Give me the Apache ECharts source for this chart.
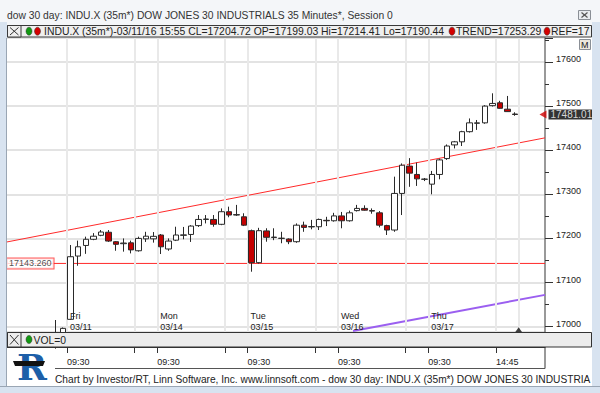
<!DOCTYPE html>
<html><head><meta charset="utf-8">
<script src="https://cdn.jsdelivr.net/npm/echarts@6/dist/echarts.min.js"></script>
<style>html,body{margin:0;padding:0;background:#fff}#c{width:600px;height:393px}</style>
</head><body><div id="c"></div>
<script>
// ---- data (35-minute bars; index 0 = Fri 03/11 09:30) ----
const barIndex = [-2,-1,0,1,2,3,4,5,6,7,8,9,10,11,12,13,14,15,16,17,18,19,20,21,22,23,24,25,26,27,28,29,30,31,32,33,34,35,36,37,38,39,40,41,42,43,44,45,46,47,48,49,50,51,52,53,54,55,56,57,58,59];
const openVals = [16982,16960,17016.5,17160,17184,17198,17207,17214,17192.5,17188,17190,17172,17199,17199.03,17207.7,17176,17196,17207,17209,17229,17243,17243,17232,17260.5,17253,17249,17217.5,17145,17217,17202,17200,17198.6,17192.5,17230,17226,17226.5,17241,17240,17251,17240,17263,17268,17263,17258,17229,17219,17302,17364,17345,17334,17323,17345,17381,17412,17419,17442,17461,17462,17501,17507.5,17493,17482];
const closeVals = [16968,16996,17158.5,17181,17198,17205,17214.5,17194,17186.6,17189.5,17174,17200,17205,17204.72,17181,17194,17207.7,17208,17228,17243,17244,17232,17260.5,17253,17254,17230,17145,17217.5,17202.5,17203,17200.5,17192.5,17230,17225,17227,17243,17240,17251,17240,17258,17268,17264,17262,17230,17219,17302,17366,17348,17335,17334.5,17345,17378,17409.5,17419,17442,17462,17462,17500,17506,17495,17487.5,17481.01];
const lowVals = [16950,16955,17015,17138,17165,17196,17205,17192,17172,17170,17166,17170,17192,17190.44,17164.6,17172,17194,17198,17192,17226,17234,17226.5,17230,17248,17251,17228,17124.5,17143,17192.5,17196,17189,17187,17190,17215,17220.6,17219,17228,17238,17223,17238,17261,17263,17256,17225,17207.7,17215,17253,17317,17319,17330,17300,17334,17378,17404,17409.5,17440,17446,17460,17499,17494,17487,17478];
const highVals = [17015,16998,17185,17195,17204,17212,17219,17219,17194,17200,17195,17204,17215,17214.41,17210,17200,17226.5,17226,17230,17253,17253,17253,17268,17272,17276,17257,17220,17224,17223,17223,17215,17200,17234,17238,17242,17245,17249,17258,17260,17263,17276,17275,17268,17262,17231,17340,17370,17382,17372,17337,17353,17381,17413,17421,17444,17472,17468.5,17502,17529,17512,17523,17486];

const refLineX = [-8.46, 63];
const refLineVals = [17143.26, 17143.26];
const trendLineX = [-8.46, 63];
const trendLineVals = [17192, 17428];
const purpleLineX = [37.5, 63];
const purpleLineVals = [16990, 17072];
const lastPrice = [63, 17481.01];
const markerPoint = [59.5, 16993];

const gridLineX = [-0.5, 8.5, 11.5, 20.5, 23.5, 32.5, 35.5, 44.5, 47.5, 56.5, 59.5];
const dayStartX = [-0.5, 11.5, 23.5, 35.5, 47.5];
const dayNames = ['Fri', 'Mon', 'Tue', 'Wed', 'Thu'];
const dayDates = ['03/11', '03/14', '03/15', '03/16', '03/17'];
const timeTickX = [-0.5, 8.5, 11.5, 20.5, 23.5, 32.5, 35.5, 44.5, 47.5, 56.5];
const timeLabelX = [-0.5, 11.5, 23.5, 35.5, 47.5, 56.5];
const timeLabels = ['09:30', '09:30', '09:30', '09:30', '09:30', '14:45'];

const titleText = 'dow 30 day: INDU.X (35m*) DOW JONES 30 INDUSTRIALS 35 Minutes*, Session 0';
const infoText = 'INDU.X (35m*)-03/11/16 15:55 CL=17204.72 OP=17199.03 Hi=17214.41 Lo=17190.44';
const trendText = 'TREND=17253.29';
const refText = 'REF=17';
const volText = 'VOL=0';
const footerText = 'Chart by Investor/RT, Linn Software, Inc. www.linnsoft.com - dow 30 day: INDU.X (35m*) DOW JONES 30 INDUSTRIA';

// ---- chart ----
const FONT = '"Liberation Sans", Arial, sans-serif';
const X_MIN = -8.46, X_MAX = 63, Y_MIN = 16987.8, Y_MAX = 17654.4;
const chart = echarts.init(document.getElementById('c'), null, {renderer: 'svg', width: 600, height: 393});
const candleData = barIndex.map((x, i) => [x, openVals[i], closeVals[i], lowVals[i], highVals[i]]);
const pairs = (xs, ys) => xs.map((x, i) => [x, ys[i]]);

const frame = '#d8e3f0';
const txt = (x, y, text, size, extra) => Object.assign({type: 'text', x: x, y: y, z: 120,
  style: {text: text, font: size + 'px ' + FONT, fill: '#222', textAlign: 'left', textVerticalAlign: 'middle'}}, extra || {});
const rect = (x, y, w, h, fill, stroke, z) => ({type: 'rect', z: z || 100, shape: {x: x, y: y, width: w, height: h},
  style: {fill: fill, stroke: stroke || null, lineWidth: 1}});
const line = (x1, y1, x2, y2, color, w, z) => ({type: 'line', z: z || 121, shape: {x1: x1, y1: y1, x2: x2, y2: y2},
  style: {stroke: color, lineWidth: w || 1}});
const dot = (cx, cy, color) => ({type: 'ellipse', z: 121, shape: {cx: cx, cy: cy, rx: 3, ry: 4},
  style: {fill: color, stroke: '#333', lineWidth: 0.5}});

const option = {
  animation: false,
  backgroundColor: '#ffffff',
  textStyle: {fontFamily: FONT},
  grid: [
    {left: 7, right: 55, top: 38, bottom: 61, outerBoundsMode: 'none', containLabel: false},
    {left: 7, right: 55, top: 347, height: 21, outerBoundsMode: 'none', containLabel: false}
  ],
  xAxis: [
    {type: 'value', gridIndex: 0, min: X_MIN, max: X_MAX, z: 6,
      axisLine: {show: false, onZero: false}, axisTick: {show: false}, splitLine: {show: false},
      axisLabel: {show: true, inside: true, customValues: dayStartX,
        formatter: v => { const k = dayStartX.indexOf(v); return k < 0 ? '' : dayNames[k] + '\n' + dayDates[k]; },
        align: 'left', verticalAlign: 'bottom', margin: 0, padding: [0, 0, 0, 3],
        fontSize: 9, lineHeight: 11, color: '#222'}},
    {type: 'value', gridIndex: 1, min: X_MIN, max: X_MAX, position: 'top',
      axisLine: {show: true, onZero: false, lineStyle: {color: '#333', width: 1}},
      axisTick: {show: true, inside: true, length: 6, customValues: timeTickX, lineStyle: {color: '#333'}},
      axisLabel: {show: true, inside: true, customValues: timeLabelX,
        formatter: v => { const k = timeLabelX.indexOf(v); return k < 0 ? '' : timeLabels[k]; },
        align: 'left', margin: 10, fontSize: 9, color: '#222'},
      splitLine: {show: false}}
  ],
  yAxis: [
    {type: 'value', gridIndex: 0, position: 'right', min: Y_MIN, max: Y_MAX, splitNumber: 6,
      axisLine: {show: true, onZero: false, lineStyle: {color: '#777', width: 1.5}},
      axisTick: {show: true, length: 8, lineStyle: {color: '#333'}},
      minorTick: {show: true, splitNumber: 2, length: 4, lineStyle: {color: '#333'}},
      axisLabel: {margin: 11, fontSize: 9, lineHeight: 6, verticalAlign: 'bottom', color: '#222',
        showMinLabel: false, showMaxLabel: false, formatter: v => String(Math.round(v))},
      splitLine: {show: true, lineStyle: {color: '#e3e3e3', width: 2}}},
    {type: 'value', gridIndex: 1, position: 'right', min: 0, max: 1,
      axisLine: {show: true, onZero: false, lineStyle: {color: '#777', width: 1.5}},
      axisTick: {show: false}, axisLabel: {show: false}, splitLine: {show: false}}
  ],
  series: [
    {type: 'line', name: 'grid', xAxisIndex: 0, yAxisIndex: 0, data: [], z: 1, silent: true,
      markLine: {silent: true, symbol: ['none', 'none'], label: {show: false},
        lineStyle: {color: '#e9e9e9', width: 2, type: 'solid', opacity: 1},
        emphasis: {disabled: true},
        data: gridLineX.map(v => ({xAxis: v}))}},
    {type: 'candlestick', name: 'INDU.X', xAxisIndex: 0, yAxisIndex: 0, data: candleData,
      encode: {x: 0, y: [1, 2, 3, 4]}, barWidth: 6, clip: true, z: 5,
      itemStyle: {color: '#ffffff', color0: '#c40000', borderColor: '#2a2a2a', borderColor0: '#2a2a2a', borderWidth: 1}},
    {type: 'line', name: 'REF', data: pairs(refLineX, refLineVals), showSymbol: false, z: 4,
      itemStyle: {color: '#ff2a2a'}, lineStyle: {color: '#ff2a2a', width: 1}},
    {type: 'line', name: 'TREND', data: pairs(trendLineX, trendLineVals), showSymbol: false, z: 4,
      itemStyle: {color: '#ff2a2a'}, lineStyle: {color: '#ff2a2a', width: 1}},
    {type: 'line', name: 'channel', data: pairs(purpleLineX, purpleLineVals), showSymbol: false, z: 4,
      itemStyle: {color: '#9b5ff0'}, lineStyle: {color: '#9b5ff0', width: 2}},
    {type: 'scatter', name: 'refLabel', data: [[refLineX[0], refLineVals[0]]], symbolSize: 0, clip: false, z: 8,
      label: {show: true, position: 'right', distance: 0, formatter: refLineVals[0].toFixed(3),
        backgroundColor: '#ffffff', borderColor: '#ff3030', borderWidth: 1, padding: [1, 2, 0, 2],
        fontSize: 9, lineHeight: 9, color: '#222'}},
    {type: 'scatter', name: 'last', data: [lastPrice], symbol: 'triangle', symbolRotate: 90, symbolSize: [8, 7],
      symbolOffset: [-2, 0], clip: false, z: 8, itemStyle: {color: '#d00000'},
      label: {show: true, position: 'right', distance: 2, formatter: p => p.value[1].toFixed(2),
        backgroundColor: '#000000', color: '#ffffff', padding: [0, 2], fontSize: 10, lineHeight: 10}},
    {type: 'scatter', name: 'marker', data: [markerPoint], symbol: 'triangle', symbolSize: [7, 5], clip: false, z: 8,
      itemStyle: {color: '#111'}}
  ],
  graphic: {elements: [
    rect(0, 0, 600, 25, '#f4f6f9', null, 100),
    rect(0, 22, 7, 371, frame, null, 110),
    line(6.5, 38, 6.5, 386, '#9aa6b4', 1, 111),
    rect(592, 22, 8, 371, frame, null, 110),
    rect(0, 386, 600, 7, frame, null, 110),
    line(0, 386.5, 600, 386.5, '#9aa6b4', 1, 111),
    txt(7, 15, titleText, 10.3, {style: {text: titleText, font: '10.3px ' + FONT, fill: '#333', textAlign: 'left', textVerticalAlign: 'middle'}}),
    rect(578.5, 10.5, 12, 9, '#e9ecf0', '#8a8f96', 115),
    line(581.5, 12.5, 587.5, 17.5, '#555', 1.2), line(587.5, 12.5, 581.5, 17.5, '#555', 1.2),
    rect(7.5, 25.5, 584, 11.5, '#efefef', '#3a3a3a', 115),
    rect(7.5, 25.5, 13.5, 11.5, '#efefef', '#3a3a3a', 116),
    line(10, 27.5, 18.5, 35, '#333', 1), line(18.5, 27.5, 10, 35, '#333', 1),
    dot(29, 31.2, '#129a12'), dot(37.5, 31.2, '#d40000'),
    txt(44, 31.5, infoText, 10.4),
    dot(452, 31.2, '#d40000'), txt(456, 31.5, trendText, 10.4),
    dot(547, 31.2, '#d40000'), txt(551, 31.5, refText, 10.4),
    rect(579.5, 39.5, 11, 10, '#ece8dc', '#8a8f96', 115),
    txt(581, 45, 'M', 9),
    rect(7.5, 332.5, 584, 14.5, '#ececec', '#333', 115),
    rect(7.5, 332.5, 13.5, 14.5, '#ececec', '#333', 116),
    line(10, 335, 18.5, 344.5, '#333', 1), line(18.5, 335, 10, 344.5, '#333', 1),
    dot(29, 339.5, '#129a12'),
    txt(33.5, 340, volText, 10.4),
    line(55, 368.5, 545, 368.5, '#555', 1, 101),
    {type: 'polygon', z: 121, shape: {points: [[13, 361], [45, 361], [43, 366], [15, 366]]}, style: {fill: '#111'}},
    txt(17, 367, 'R', 36, {style: {text: 'R', font: 'bold 36px "DejaVu Serif", serif', fill: '#1d5fa8', textAlign: 'left', textVerticalAlign: 'middle'}, z: 120}),
    txt(55, 379.5, footerText, 10.2)
  ]}
};
chart.setOption(option);
</script></body></html>
